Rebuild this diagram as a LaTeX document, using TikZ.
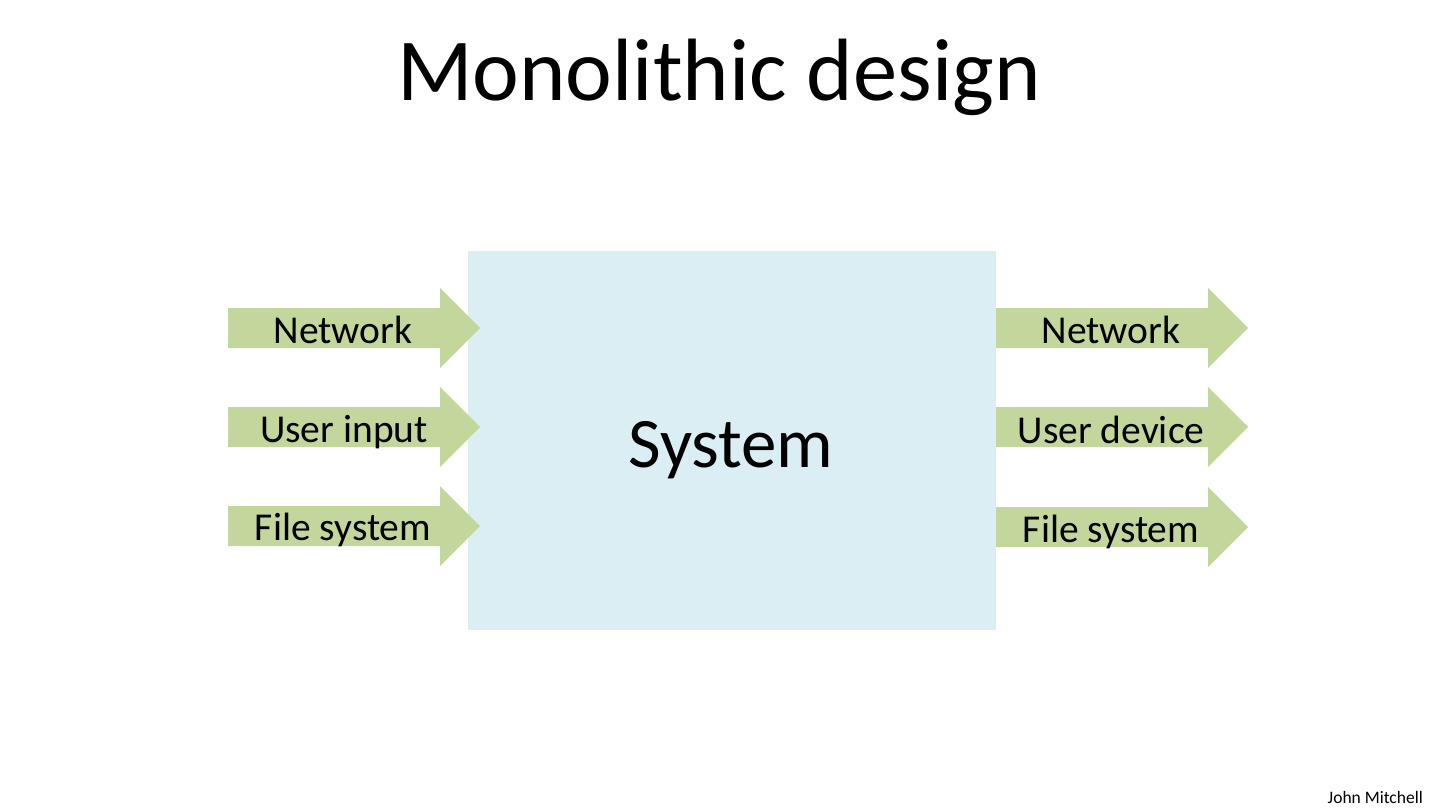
\documentclass[tikz,border=0pt]{standalone}
\usepackage{fontspec}
\setmainfont{Carlito}
\usetikzlibrary{positioning}
\definecolor{arrowgreen}{HTML}{C3D69B}
\definecolor{sysblue}{HTML}{DBEEF3}
\tikzset{
  blockarrow/.pic={
    \fill[arrowgreen] (0,-20) -- (212,-20) -- (212,-40) -- (252,0)
      -- (212,40) -- (212,20) -- (0,20) -- cycle;
  },
  label/.style={inner sep=0pt, anchor=base, font=\fontsize{39.5}{44}\selectfont},
}
\begin{document}
\begin{tikzpicture}[x=1pt, y=-1pt]
    \useasboundingbox (0,0) rectangle (1440,811);
    % title
    \node[inner sep=0pt, anchor=base, font=\fontsize{88.5}{96}\selectfont] (title) at (719,100) {Monolithic design};
    % the system
    \node[fill=sysblue, inner sep=0pt, minimum width=528pt, minimum height=379pt] (sys) at (732,440.5) {};
    \node[inner sep=0pt, anchor=base, font=\fontsize{71}{78}\selectfont] (systxt) at (731,467) {System};
    % inputs
    \pic at (228,328) {blockarrow};
    \pic at (228,427) {blockarrow};
    \pic at (228,526) {blockarrow};
    \node[label] (in1) at (343,343) {Network};
    \node[label] (in2) at (344,442) {User input};
    \node[label] (in3) at (343,540) {File system};
    % outputs
    \pic at (996,328) {blockarrow};
    \pic at (996,427) {blockarrow};
    \pic at (996,527) {blockarrow};
    \node[label] (out1) at (1111,343) {Network};
    \node[label] (out2) at (1111,443) {User device};
    \node[label] (out3) at (1111,542) {File system};
    % footer
    \node[inner sep=0pt, anchor=base east, font=\fontsize{17.5}{20}\selectfont] (author) at (1423,803) {John Mitchell};
\end{tikzpicture}
\end{document}
